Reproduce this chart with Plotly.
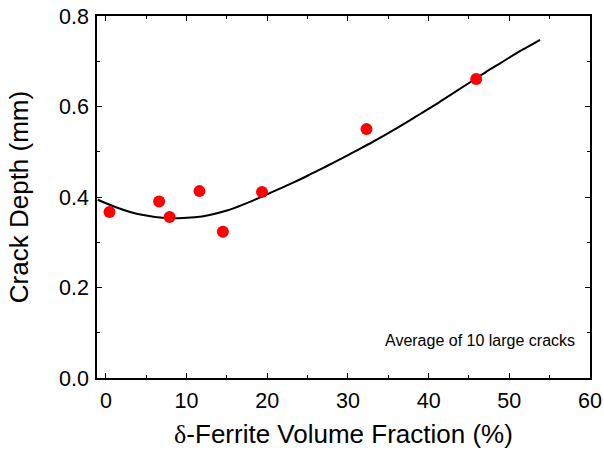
import plotly.graph_objects as go

# measured data points
frac_x = [0.45, 6.6, 7.9, 11.6, 14.5, 19.35, 32.3, 45.9]
depth_y = [0.367, 0.390, 0.356, 0.413, 0.323, 0.411, 0.550, 0.661]

# fitted curve
curve_x = [-1, 1, 3, 5, 7, 9, 11, 13, 15, 17, 19, 21, 23, 25, 27, 29, 31, 33, 35,
           37, 39, 41, 43, 45, 47, 49, 51, 53, 53.8]
curve_y = [0.394, 0.379, 0.367, 0.359, 0.354, 0.353, 0.355, 0.361, 0.370, 0.383,
           0.398, 0.414, 0.430, 0.447, 0.465, 0.483, 0.502, 0.521, 0.541, 0.562,
           0.584, 0.606, 0.629, 0.652, 0.675, 0.697, 0.719, 0.739, 0.747]

x_ticks = [0, 10, 20, 30, 40, 50, 60]
y_ticks = [0.0, 0.2, 0.4, 0.6, 0.8]
y_tick_text = ["0.0", "0.2", "0.4", "0.6", "0.8"]

font_family = "Liberation Sans, Arial, sans-serif"

fig = go.Figure()
fig.add_trace(go.Scatter(x=curve_x, y=curve_y, mode="lines",
                         line=dict(color="black", width=2, shape="spline", smoothing=1.0),
                         showlegend=False, hoverinfo="skip"))
fig.add_trace(go.Scatter(x=frac_x, y=depth_y, mode="markers",
                         marker=dict(color="#FF0000", size=12, line=dict(width=0)),
                         showlegend=False))

axis_common = dict(
    showgrid=False, zeroline=False, showline=True, linecolor="black", linewidth=1.5,
    mirror="allticks", ticks="inside", ticklen=5, tickwidth=1.3, tickcolor="black",
    tickfont=dict(family=font_family, size=21.5, color="black"), automargin=False,
)

fig.update_xaxes(
    range=[-1.1, 60], tickvals=x_ticks,
    minor=dict(ticks="inside", ticklen=3, dtick=5, tick0=0, tickcolor="black", tickwidth=1.3),
    title=dict(text="<span style='font-family:Liberation Serif'>δ</span>-Ferrite Volume Fraction (%)",
               font=dict(family=font_family, size=26, color="black"), standoff=13),
    ticklabelstandoff=2,
    **axis_common,
)
fig.update_yaxes(
    range=[0, 0.8], tickvals=y_ticks, ticktext=y_tick_text,
    minor=dict(ticks="inside", ticklen=3, dtick=0.1, tick0=0, tickcolor="black", tickwidth=1.3),
    title=dict(text="Crack Depth (mm)", font=dict(family=font_family, size=26, color="black"),
               standoff=23),
    ticklabelstandoff=2,
    **axis_common,
)

fig.add_annotation(x=0.973, y=0.103, xref="paper", yref="paper", xanchor="right", yanchor="middle",
                   text="Average of 10 large cracks", showarrow=False,
                   font=dict(family=font_family, size=16, color="black"))

fig.update_layout(
    width=604, height=453,
    margin=dict(l=97, r=14, t=16, b=75),
    plot_bgcolor="white", paper_bgcolor="white",
    font=dict(family=font_family, color="black"),
)

fig.write_html("out.html", config={"displayModeBar": False},
               post_script="document.body.style.margin='0px';")
